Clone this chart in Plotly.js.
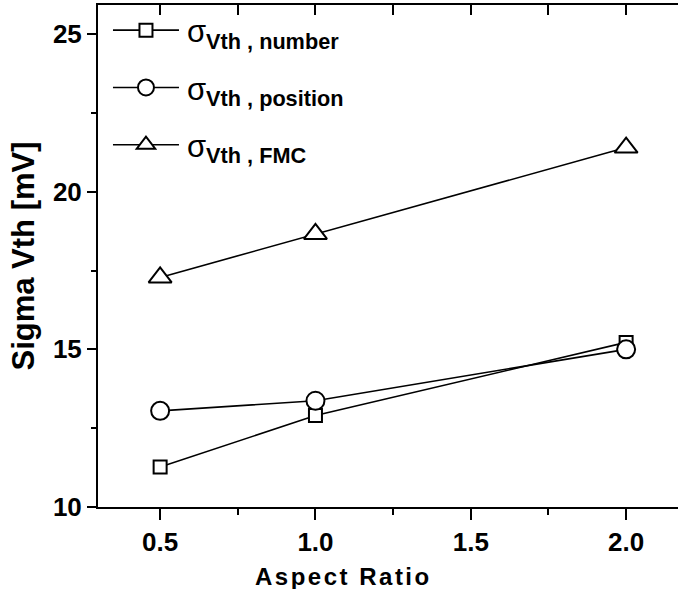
<!DOCTYPE html>
<html><head><meta charset="utf-8">
<script src="https://cdn.plot.ly/plotly-3.0.1.min.js"></script>
<style>body{margin:0;background:#fff}</style>
</head><body>
<div id="chart" style="width:678px;height:589px"></div>
<script>
const aspectRatio = [0.5, 1.0, 2.0];
const sigmaNumber = [11.27, 12.9, 15.22];
const sigmaPosition = [13.05, 13.37, 15.0];
const sigmaFMC = [17.28, 18.66, 21.4];
const seriesNames = ['σ<sub><b>Vth , number</b></sub>', 'σ<sub><b>Vth , position</b></sub>', 'σ<sub><b>Vth , FMC</b></sub>'];
const xTickVals = [0.5, 1.0, 1.5, 2.0];
const xTickText = ['0.5', '1.0', '1.5', '2.0'];
const yTickVals = [10, 15, 20, 25];
const topTickVals = [0.25, 0.5, 0.75, 1.0, 1.25, 1.5, 1.75, 2.0];

const FONT = 'Liberation Sans, Arial, sans-serif';
function tr(y, name, sym, size, grp) {
  return {x: aspectRatio, y: y, name: name, type: 'scatter', mode: 'lines+markers',
    legendgroup: grp,
    line: {color: '#000', width: 1.6},
    marker: {symbol: sym, size: size, color: '#fff', line: {color: '#000', width: 2}}};
}
const data = [
  tr(sigmaNumber, seriesNames[0], 'square', 13, 'a'),
  tr(sigmaPosition, seriesNames[1], 'circle', 18, 'b'),
  tr(sigmaFMC, seriesNames[2], 'triangle-up', 20, 'c'),
  {x: aspectRatio, y: sigmaNumber, xaxis: 'x2', yaxis: 'y', showlegend: false, mode: 'none', hoverinfo: 'skip', type: 'scatter'}
];
const layout = {
  width: 678, height: 589,
  margin: {l: 98, r: 0, t: 5, b: 82},
  paper_bgcolor: '#fff', plot_bgcolor: '#fff',
  font: {family: FONT, color: '#000'},
  showlegend: true,
  legend: {x: 0.0172, y: 1.003, xanchor: 'left', yanchor: 'top', bgcolor: 'rgba(0,0,0,0)',
    font: {family: FONT, size: 31, color: '#000'}, tracegroupgap: 14, itemwidth: 69},
  xaxis: {range: [0.3, 2.167], tickvals: xTickVals, ticktext: xTickText,
    ticks: 'outside', ticklen: 11, tickwidth: 2, tickcolor: '#000',
    showline: true, linewidth: 2, linecolor: '#000', showgrid: false, zeroline: false,
    tickfont: {family: FONT, size: 26, color: '#000', weight: 'bold'},
    minor: {dtick: 0.25, tick0: 0.25, ticks: 'outside', ticklen: 6, tickwidth: 2, tickcolor: '#000', showgrid: false}},
  xaxis2: {range: [0.3, 2.167], overlaying: 'x', side: 'top', tickvals: topTickVals,
    ticks: 'inside', ticklen: 10, tickwidth: 2, tickcolor: '#000', showticklabels: false,
    showline: true, linewidth: 2, linecolor: '#000', showgrid: false, zeroline: false},
  yaxis: {range: [10, 25.92], tickvals: yTickVals,
    ticks: 'outside', ticklen: 9, tickwidth: 2, tickcolor: '#000',
    showline: true, linewidth: 2, linecolor: '#000', showgrid: false, zeroline: false,
    tickfont: {family: FONT, size: 26, color: '#000', weight: 'bold'},
    minor: {dtick: 2.5, tick0: 12.5, ticks: 'outside', ticklen: 5, tickwidth: 2, tickcolor: '#000', showgrid: false},
    title: {text: 'Sigma Vth [mV]', font: {family: FONT, size: 31, color: '#000', weight: 'bold'}, standoff: 9}},
  annotations: [{text: 'Aspect Ratio', xref: 'paper', yref: 'paper', x: 0.424, y: -0.1375,
    xanchor: 'center', yanchor: 'middle', showarrow: false,
    font: {family: FONT, size: 24, color: '#000', weight: 'bold'}}]
};
Plotly.newPlot('chart', data, layout, {displayModeBar: false, staticPlot: true}).then(function(){
  document.querySelectorAll('.annotation-text').forEach(function(t){ t.style.letterSpacing = '2.5px'; });
  document.querySelectorAll('.legend .traces').forEach(function(t){
    t.querySelectorAll('.legendlines path').forEach(function(p){ p.setAttribute('d', 'M5,0h66'); });
    t.querySelectorAll('.legendpoints path').forEach(function(p){ p.setAttribute('transform', 'translate(38,0)'); });
  });
});
</script>
</body></html>
